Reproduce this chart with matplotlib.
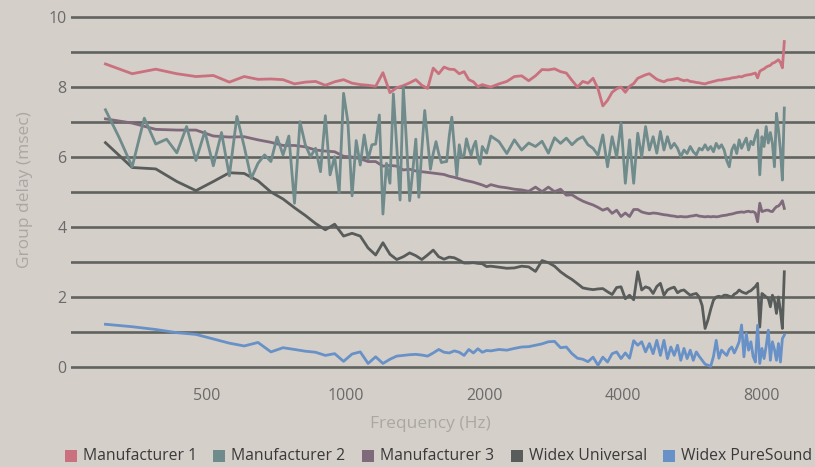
import matplotlib
matplotlib.use("Agg")
import matplotlib.pyplot as plt
import numpy as np
from matplotlib.patches import Rectangle
from matplotlib.ticker import NullLocator

plt.rcParams['font.family'] = ['Open Sans', 'DejaVu Sans']

# ---------------- data ----------------
BIN_HZ = 44100 / 1024  # FFT bin spacing of the measurement

bins_main = list(range(7, 49)) + list(range(50, 209, 2))
bins_m2 = [k / 2 for k in range(14, 97)] + list(range(50, 209, 2))

freq_main = np.array(bins_main) * BIN_HZ
freq_m2 = np.array(bins_m2) * BIN_HZ

series_names = ["Manufacturer 1", "Manufacturer 2", "Manufacturer 3",
                "Widex Universal", "Widex PureSound"]

manufacturer_1 = [
    8.66, 8.38, 8.51, 8.38, 8.30, 8.33, 8.14, 8.30, 8.22, 8.23,
    8.21, 8.09, 8.14, 8.16, 8.05, 8.15, 8.21, 8.11, 8.07, 8.05,
    8.02, 8.41, 7.84, 7.98, 8.04, 8.12, 8.21, 8.05, 7.96, 8.54,
    8.38, 8.57, 8.51, 8.50, 8.38, 8.44, 8.21, 8.15, 8.01, 8.07,
    8.03, 8.00,
    8.09, 8.16, 8.30, 8.32, 8.18, 8.32, 8.50, 8.49, 8.52, 8.44,
    8.40, 8.19, 8.00, 8.16, 8.11, 8.25, 7.95, 7.46, 7.62, 7.85,
    7.95, 8.00, 7.85, 8.02, 8.10, 8.25, 8.30, 8.35, 8.38, 8.30,
    8.22, 8.18, 8.15, 8.20, 8.21, 8.23, 8.25, 8.21, 8.18, 8.20,
    8.16, 8.15, 8.13, 8.12, 8.10, 8.09, 8.12, 8.14, 8.16, 8.18,
    8.20, 8.20, 8.22, 8.23, 8.24, 8.26, 8.27, 8.28, 8.30, 8.29,
    8.32, 8.34, 8.35, 8.36, 8.38, 8.40, 8.26, 8.45, 8.49, 8.52,
    8.57, 8.60, 8.62, 8.68, 8.70, 8.74, 8.78, 8.70, 8.55, 9.30,
]

manufacturer_2 = [
    7.35, 6.55, 5.72, 7.11, 6.37, 6.51, 6.12, 6.87, 5.90, 6.73,
    5.75, 6.70, 5.46, 7.16, 6.30, 5.39, 5.82, 6.06, 5.87, 6.57,
    6.06, 6.60, 4.68, 7.01, 6.35, 6.01, 6.25, 5.58, 7.18, 5.49,
    6.01, 4.98, 7.82, 7.01, 4.89, 6.47, 5.77, 6.63, 5.94, 6.35,
    6.37, 7.20, 4.37, 5.82, 5.25, 7.80, 6.30, 4.77, 8.00, 6.40,
    4.75, 5.60, 6.51, 4.85, 6.20, 7.33, 6.50, 5.65, 6.10, 6.44,
    6.10, 5.84, 5.86, 5.87, 6.60,
    7.14, 6.30, 5.46, 6.35, 6.00, 6.05, 6.52, 6.25, 6.05, 6.30,
    6.45, 6.00, 5.80, 6.30, 6.20, 6.11, 6.35, 6.60,
    6.44, 6.10, 6.49, 6.20, 6.40, 6.30, 6.45, 6.11, 6.55, 6.39,
    6.54, 6.35, 6.50, 6.58, 6.35, 6.25, 6.05, 6.63, 5.72, 6.58,
    6.00, 6.97, 5.25, 6.49, 5.25, 6.68, 6.00, 6.87, 6.20, 6.58,
    6.11, 6.73, 6.20, 6.58, 6.25, 6.39, 6.25, 6.01, 6.20, 6.10,
    6.30, 6.15, 6.06, 6.25, 6.20, 6.35, 6.20, 6.30, 6.15, 6.39,
    6.25, 6.35, 6.20, 5.90, 5.72, 6.20, 6.35, 6.10, 6.49, 6.25,
    6.40, 6.54, 6.20, 6.45, 6.35, 6.60, 6.77, 5.49, 6.58, 6.30,
    6.87, 6.40, 6.70, 6.39, 5.72, 7.25, 6.77, 6.20, 5.34, 7.40,
]

manufacturer_3 = [
    7.09, 6.97, 6.79, 6.77, 6.77, 6.60, 6.57, 6.58, 6.49, 6.42,
    6.33, 6.33, 6.29, 6.20, 6.17, 6.15, 6.02, 6.00, 5.95, 5.87,
    5.87, 5.74, 5.76, 5.74, 5.63, 5.65, 5.60, 5.58, 5.56, 5.54,
    5.52, 5.50, 5.45, 5.42, 5.38, 5.34, 5.31, 5.28, 5.24, 5.20,
    5.15, 5.21,
    5.15, 5.12, 5.08, 5.06, 5.02, 5.14, 5.01, 5.14, 5.01, 5.08,
    4.91, 4.92, 4.82, 4.74, 4.68, 4.63, 4.56, 4.48, 4.53, 4.39,
    4.48, 4.30, 4.40, 4.30, 4.50, 4.50, 4.43, 4.40, 4.38, 4.40,
    4.39, 4.37, 4.35, 4.34, 4.32, 4.31, 4.29, 4.30, 4.29, 4.29,
    4.31, 4.32, 4.34, 4.31, 4.30, 4.29, 4.30, 4.29, 4.30, 4.29,
    4.30, 4.32, 4.33, 4.34, 4.36, 4.37, 4.39, 4.41, 4.42, 4.43,
    4.42, 4.44, 4.45, 4.43, 4.44, 4.40, 4.15, 4.68, 4.44, 4.46,
    4.48, 4.48, 4.45, 4.44, 4.52, 4.58, 4.60, 4.66, 4.75, 4.53,
]

widex_universal = [
    6.41, 5.70, 5.66, 5.30, 5.04, 5.30, 5.55, 5.53, 5.32, 5.00,
    4.80, 4.55, 4.33, 4.10, 3.92, 4.08, 3.74, 3.82, 3.74, 3.40,
    3.20, 3.55, 3.22, 3.07, 3.15, 3.26, 3.18, 3.07, 3.20, 3.34,
    3.15, 3.08, 3.14, 3.12, 3.05, 2.97, 2.97, 2.98, 2.96, 2.95,
    2.87, 2.88,
    2.85, 2.82, 2.83, 2.88, 2.86, 2.73, 3.04, 2.98, 2.88, 2.72,
    2.60, 2.50, 2.38, 2.26, 2.23, 2.21, 2.23, 2.24, 2.15, 2.07,
    2.27, 2.29, 1.95, 2.05, 1.92, 2.72, 2.20, 2.29, 2.25, 2.10,
    2.30, 2.39, 2.05, 2.20, 2.25, 2.28, 2.12, 2.18, 2.20, 2.12,
    2.05, 2.08, 2.10, 2.00, 1.75, 1.10, 1.34, 1.65, 1.91, 2.00,
    2.02, 2.00, 2.05, 2.05, 2.02, 2.00, 2.08, 2.12, 2.20, 2.15,
    2.12, 2.10, 2.15, 2.18, 2.24, 2.30, 2.39, 1.14, 2.10, 2.05,
    2.00, 1.95, 1.72, 2.05, 1.90, 1.53, 2.00, 1.60, 1.10, 2.72,
]

widex_puresound = [
    1.22, 1.15, 1.07, 0.98, 0.93, 0.80, 0.68, 0.60, 0.70, 0.43,
    0.55, 0.50, 0.45, 0.42, 0.33, 0.38, 0.16, 0.37, 0.43, 0.10,
    0.29, 0.10, 0.22, 0.31, 0.33, 0.35, 0.36, 0.34, 0.31, 0.40,
    0.50, 0.42, 0.40, 0.46, 0.42, 0.33, 0.50, 0.40, 0.52, 0.42,
    0.47, 0.46,
    0.50, 0.48, 0.53, 0.57, 0.58, 0.62, 0.66, 0.72, 0.73, 0.55,
    0.57, 0.38, 0.25, 0.22, 0.15, 0.28, 0.05, 0.28, 0.14, 0.38,
    0.43, 0.24, 0.40, 0.25, 0.75, 0.62, 0.72, 0.43, 0.67, 0.38,
    0.76, 0.33, 0.76, 0.24, 0.57, 0.33, 0.62, 0.19, 0.53, 0.24,
    0.48, 0.19, 0.43, 0.30, 0.19, 0.08, 0.05, 0.02, 0.30, 0.76,
    0.25, 0.48, 0.40, 0.33, 0.50, 0.57, 0.40, 0.55, 0.72, 1.20,
    0.29, 0.96, 0.48, 0.72, 0.30, 0.14, 1.19, 0.10, 0.53, 0.24,
    0.60, 1.05, 0.19, 0.72, 0.50, 0.19, 0.67, 0.14, 0.81, 0.91,
]

x_ticks = [500, 1000, 2000, 4000, 8000]
y_ticks = list(range(0, 11))
y_labels = [str(v) if v % 2 == 0 else "" for v in y_ticks]

# ---------------- style ----------------
BG = "#d5cfc9"
GRID = "#616360"
colors = ["#c9717f", "#6f8b8b", "#7f6a7c", "#585c5a", "#6891c8"]

W, H = 815, 467
fig = plt.figure(figsize=(W / 100, H / 100), dpi=100, facecolor=BG)
ax_l, ax_r, ax_t, ax_b = 71, 815, 11.8, 372.2
ax = fig.add_axes([ax_l / W, (H - ax_b) / H, (ax_r - ax_l) / W, (ax_b - ax_t) / H])
ax.set_facecolor(BG)
ax.set_xscale("log")
ax.set_xlim(253.8, 10442)
ax.set_ylim(-0.15, 10.15)

for v in y_ticks:
    ax.axhline(v, color=GRID, lw=1.9, zorder=1)

data = [(freq_main, manufacturer_1), (freq_m2, manufacturer_2),
        (freq_main, manufacturer_3), (freq_main, widex_universal),
        (freq_main, widex_puresound)]
zorders = [3, 5, 4, 3, 3]
for (fx, fy), c, z, name in zip(data, colors, zorders, series_names):
    ax.plot(fx, fy, color=c, lw=2.0, zorder=z, solid_joinstyle="round", label=name)

ax.set_xticks(x_ticks)
ax.set_xticklabels([str(t) for t in x_ticks])
ax.xaxis.set_minor_locator(NullLocator())
ax.set_yticks(y_ticks)
ax.set_yticklabels(y_labels)
ax.tick_params(axis="both", length=0, labelsize=11.5, labelcolor="#6a6a6a")
ax.tick_params(axis="x", pad=11.5)
ax.tick_params(axis="y", pad=3.2)
for s in ax.spines.values():
    s.set_visible(False)

fig.text(25 / W, 1 - 190 / H, "Group delay (msec)", rotation=90, ha="center",
         va="center", fontsize=12.5, color="#aaa8a4")
fig.text(430 / W, 1 - 424 / H, "Frequency (Hz)", ha="center", va="center",
         fontsize=12.5, color="#aaa8a4")

# legend
sq_x = [65, 213, 362, 511, 663]
for x0, c, name in zip(sq_x, colors, series_names):
    fig.patches.append(Rectangle((x0 / W, 1 - 462 / H), 12 / W, 12 / H,
                                 transform=fig.transFigure, color=c, lw=0))
    fig.text((x0 + 18) / W, 1 - 456 / H, name, ha="left", va="center",
             fontsize=11.3, color="#3a3a3a")

fig.savefig("out.png", dpi=100, facecolor=BG)
